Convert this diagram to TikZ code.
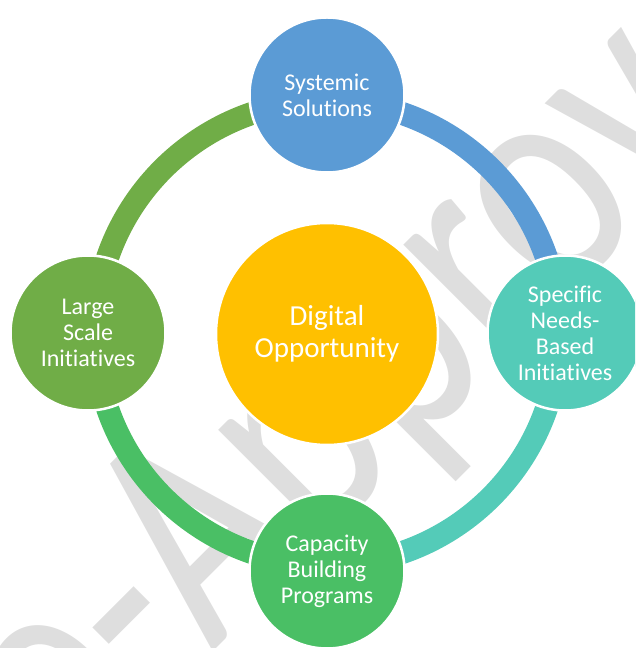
\documentclass[tikz,border=0pt]{standalone}
\usepackage{xcolor}
\usepackage{fontspec}
\setmainfont{Carlito}[Ligatures=NoCommon]
\usepackage{tikz}
\definecolor{ringblue}{RGB}{91,155,213}
\definecolor{ringteal}{RGB}{84,203,184}
\definecolor{ringgreen}{RGB}{74,191,101}
\definecolor{ringolive}{RGB}{112,173,71}
\definecolor{hubgold}{RGB}{255,192,0}
\definecolor{wmgray}{RGB}{222,222,222}
\usetikzlibrary{calc}

\begin{document}
\begin{tikzpicture}[x=1pt, y=1pt,
    bubble/.style={circle, draw=white, line width=2.5pt, text=white, align=center,
        inner sep=0pt, minimum size=155pt, font=\fontsize{24}{26}\selectfont},
    seg/.style={line width=23pt}]
    \clip (0,0) rectangle (635,648);
    % Watermark behind the cycle
    \node[text=wmgray, rotate=45, xscale=0.78, anchor=base west, inner sep=0pt,
        font=\fontsize{320}{320}\selectfont] (mark) at (-80,-297) {Pre-Approval};
    % Hub
    \coordinate (hub) at (327,315);
    % Ring segments
    \draw[seg, ringblue] (hub) ++(90:232) arc[start angle=90, end angle=0, radius=232];
    \draw[seg, ringteal] (hub) ++(0:232) arc[start angle=0, end angle=-90, radius=232];
    \draw[seg, ringgreen] (hub) ++(-90:232) arc[start angle=-90, end angle=-180, radius=232];
    \draw[seg, ringolive] (hub) ++(180:232) arc[start angle=180, end angle=90, radius=232];
    % Circles
    \node[bubble, fill=hubgold, minimum size=222pt, font=\fontsize{29}{31.5}\selectfont]
        (digital) at (327,314) {Digital\\Opportunity};
    \node[bubble, fill=ringblue] (systemic) at (327,553) {Systemic\\Solutions};
    \node[bubble, fill=ringteal] (specific) at (565,315) {Specific\\Needs-\\Based\\Initiatives};
    \node[bubble, fill=ringgreen] (capacity) at (327,77) {Capacity\\Building\\Programs};
    \node[bubble, fill=ringolive] (large) at (88,315) {Large\\Scale\\Initiatives};
\end{tikzpicture}
\end{document}
